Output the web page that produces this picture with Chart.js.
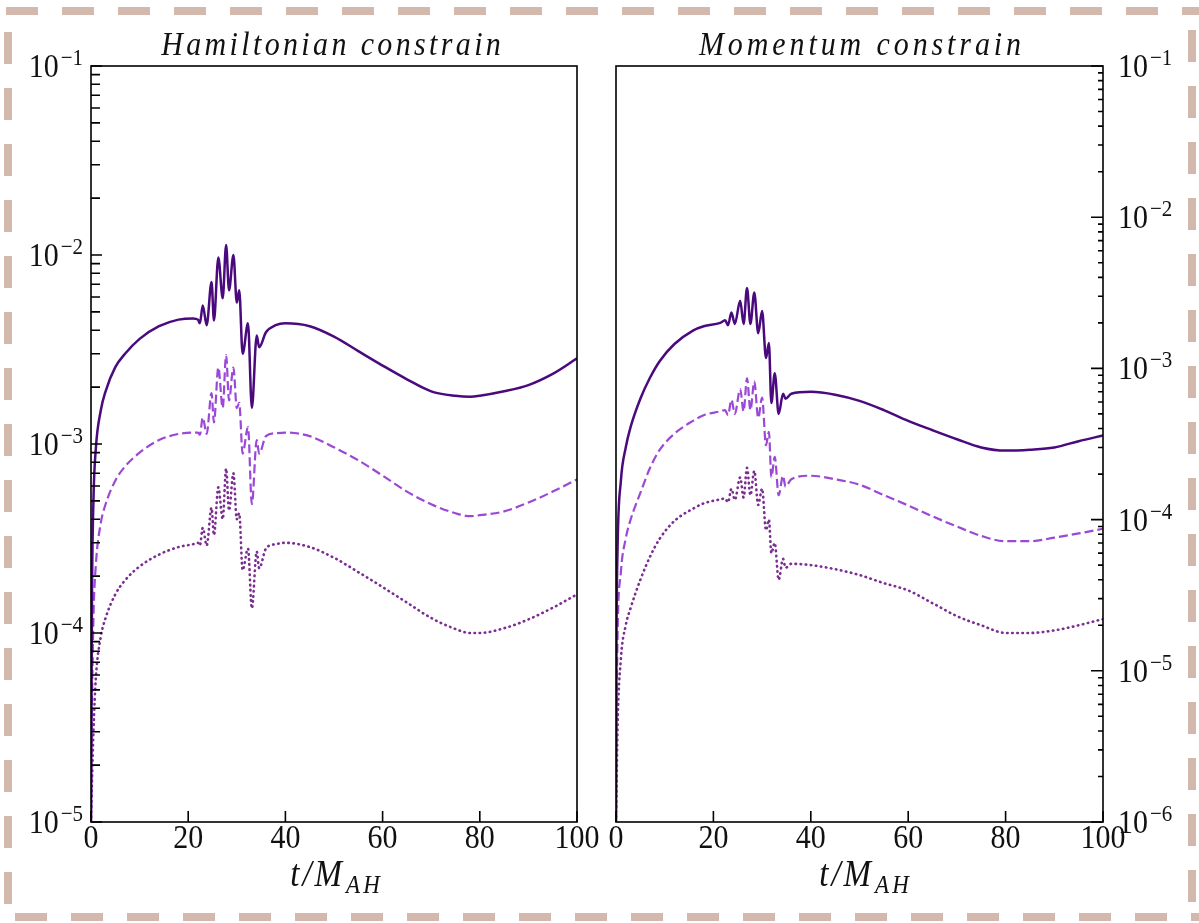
<!DOCTYPE html>
<html><head><meta charset="utf-8">
<script src="https://cdn.jsdelivr.net/npm/chart.js@4.4.0/dist/chart.umd.min.js"></script>
<style>
html,body{margin:0;padding:0;background:#fff;}
#wrap{position:relative;width:1199px;height:923px;overflow:hidden;background:#fff;}
canvas{position:absolute;top:0;}
#c1{left:0;} #c2{left:600px;}
svg{position:absolute;left:0;top:0;}
</style></head><body>
<div id="wrap">
<canvas id="c1" width="600" height="923"></canvas>
<canvas id="c2" width="599" height="923"></canvas>
<svg width="1199" height="923">
 <g stroke="#d3b8ad" stroke-width="8" fill="none" stroke-dasharray="32 24">
  <line x1="6" y1="11" x2="1199" y2="11"/>
  <line x1="8" y1="32" x2="8" y2="923"/>
  <line x1="1192" y1="30" x2="1192" y2="923"/>
  <line x1="15" y1="917" x2="1199" y2="917"/>
 </g>
</svg>
</div>
<script>
// ---- tick labels ----
const xTicks = [0, 20, 40, 60, 80, 100];
const hamYExps = [-1, -2, -3, -4, -5];
const momYExps = [-1, -2, -3, -4, -5, -6];
const panelTitles = ['Hamiltonian constrain', 'Momentum constrain'];

// ---- Hamiltonian constraint panel ----
const hamT = [0, 0.2, 0.5, 1, 2, 3, 5, 7, 10, 14, 18, 21, 22, 22.4, 23, 23.8, 24.8, 25.3, 26.2, 27.1, 27.8, 28.4, 29.3, 30, 30.5, 31.2, 32.3, 33.1, 34.1, 34.6, 36, 38, 40, 45, 50, 55, 60, 65, 70, 75, 78, 80, 85, 90, 95, 100];
const hamSolid = [1.0e-5, 1.5e-4, 5.0e-4, 9.5e-4, 1.5e-3, 1.9e-3, 2.55e-3, 3.0e-3, 3.6e-3, 4.2e-3, 4.55e-3, 4.62e-3, 4.55e-3, 4.35e-3, 5.4e-3, 4.25e-3, 7.2e-3, 4.5e-3, 9.7e-3, 5.9e-3, 1.13e-2, 6.5e-3, 1.0e-2, 5.6e-3, 6.5e-3, 3.0e-3, 4.35e-3, 1.55e-3, 3.75e-3, 3.25e-3, 3.9e-3, 4.25e-3, 4.35e-3, 4.2e-3, 3.7e-3, 3.1e-3, 2.6e-3, 2.2e-3, 1.9e-3, 1.8e-3, 1.78e-3, 1.8e-3, 1.9e-3, 2.05e-3, 2.35e-3, 2.84e-3];
const hamDashed = [1.0e-5, 4.0e-5, 1.2e-4, 2.3e-4, 3.8e-4, 4.8e-4, 6.4e-4, 7.6e-4, 9.0e-4, 1.05e-3, 1.13e-3, 1.15e-3, 1.15e-3, 1.12e-3, 1.38e-3, 1.13e-3, 1.86e-3, 1.3e-3, 2.54e-3, 1.55e-3, 2.95e-3, 1.7e-3, 2.54e-3, 1.55e-3, 1.65e-3, 8.9e-4, 1.23e-3, 4.8e-4, 1.05e-3, 8.9e-4, 1.1e-3, 1.14e-3, 1.15e-3, 1.1e-3, 9.6e-4, 8.2e-4, 6.8e-4, 5.6e-4, 4.8e-4, 4.3e-4, 4.15e-4, 4.2e-4, 4.4e-4, 4.9e-4, 5.6e-4, 6.5e-4];
const hamDotted = [1.0e-5, 1.6e-5, 3.0e-5, 5.8e-5, 9.5e-5, 1.2e-4, 1.6e-4, 1.9e-4, 2.25e-4, 2.6e-4, 2.85e-4, 2.95e-4, 3.0e-4, 2.9e-4, 3.6e-4, 2.9e-4, 4.6e-4, 3.3e-4, 5.9e-4, 4.0e-4, 7.4e-4, 4.45e-4, 7.0e-4, 4.0e-4, 4.3e-4, 2.15e-4, 2.8e-4, 1.35e-4, 2.7e-4, 2.2e-4, 2.8e-4, 2.95e-4, 3.0e-4, 2.85e-4, 2.5e-4, 2.1e-4, 1.75e-4, 1.45e-4, 1.2e-4, 1.05e-4, 1.0e-4, 1.0e-4, 1.06e-4, 1.18e-4, 1.36e-4, 1.6e-4];

// ---- Momentum constraint panel ----
const momT = [0, 0.1, 0.3, 1, 2, 3, 5, 7, 9, 12, 15.8, 18, 21.4, 22.4, 23, 23.7, 24.4, 25.5, 26.2, 26.9, 27.6, 28.4, 29.2, 30, 30.8, 31.4, 31.9, 32.6, 33.4, 34.3, 34.8, 36, 40, 45, 50, 55, 60, 65, 70, 75, 80, 85, 90, 95, 100];
const momSolid = [1.0e-6, 1.5e-5, 6.0e-5, 1.8e-4, 3.0e-4, 4.1e-4, 6.3e-4, 8.7e-4, 1.12e-3, 1.45e-3, 1.78e-3, 1.9e-3, 2.0e-3, 2.08e-3, 1.93e-3, 2.34e-3, 1.97e-3, 2.8e-3, 1.97e-3, 3.4e-3, 1.97e-3, 3.18e-3, 1.71e-3, 2.4e-3, 1.17e-3, 1.47e-3, 5.9e-4, 9.3e-4, 5.0e-4, 6.8e-4, 6.3e-4, 6.8e-4, 7.0e-4, 6.7e-4, 6.1e-4, 5.3e-4, 4.5e-4, 3.9e-4, 3.4e-4, 3.0e-4, 2.86e-4, 2.9e-4, 3.0e-4, 3.3e-4, 3.6e-4];
const momDashed = [1.0e-6, 4.0e-6, 1.6e-5, 4.5e-5, 7.5e-5, 1.0e-4, 1.5e-4, 2.2e-4, 2.9e-4, 3.7e-4, 4.5e-4, 4.9e-4, 5.2e-4, 5.3e-4, 4.9e-4, 6.2e-4, 5.0e-4, 7.3e-4, 5.2e-4, 8.6e-4, 5.3e-4, 8.2e-4, 4.7e-4, 6.4e-4, 3.1e-4, 3.8e-4, 1.9e-4, 2.6e-4, 1.45e-4, 1.95e-4, 1.65e-4, 1.85e-4, 1.95e-4, 1.85e-4, 1.7e-4, 1.45e-4, 1.24e-4, 1.05e-4, 9.0e-5, 7.8e-5, 7.2e-5, 7.2e-5, 7.6e-5, 8.1e-5, 8.7e-5];
const momDotted = [1.0e-6, 1.5e-6, 4.0e-6, 1.2e-5, 2.0e-5, 2.6e-5, 4.0e-5, 5.7e-5, 7.5e-5, 9.8e-5, 1.18e-4, 1.28e-4, 1.36e-4, 1.38e-4, 1.3e-4, 1.6e-4, 1.35e-4, 1.9e-4, 1.4e-4, 2.2e-4, 1.45e-4, 2.1e-4, 1.25e-4, 1.6e-4, 8.5e-5, 1.0e-4, 6.0e-5, 7.0e-5, 4.0e-5, 5.5e-5, 4.8e-5, 5.1e-5, 5.0e-5, 4.7e-5, 4.3e-5, 3.8e-5, 3.4e-5, 2.8e-5, 2.3e-5, 2.0e-5, 1.78e-5, 1.78e-5, 1.85e-5, 2.0e-5, 2.2e-5];

// ---- styles ----
const FONT = '"Liberation Serif", "DejaVu Serif", serif';
const SY = 1.12; // slight vertical stretch of the reference lettering
const styles = [
  {color: '#4a0a7e', width: 2.5, dash: [], cap: 'butt'},
  {color: '#9b48d6', width: 2.2, dash: [9, 4], cap: 'butt'},
  {color: '#7b2d91', width: 2.6, dash: [0.5, 4.6], cap: 'round'}
];

function drawText(ctx, s, x, y, size, italic, align, ls) {
  ctx.save();
  ctx.translate(x, y);
  ctx.scale(1, SY);
  ctx.font = (italic ? 'italic ' : '') + size + 'px ' + FONT;
  ctx.textAlign = align || 'left';
  ctx.textBaseline = 'alphabetic';
  ctx.fillStyle = '#111';
  if (ls) ctx.letterSpacing = ls + 'px';
  ctx.fillText(s, 0, 0);
  ctx.restore();
}
function measure(ctx, s, size, italic) {
  ctx.save();
  ctx.font = (italic ? 'italic ' : '') + size + 'px ' + FONT;
  const w = ctx.measureText(s).width;
  ctx.restore();
  return w;
}

const decoPlugin = {
  id: 'deco',
  afterDatasetsDraw(chart, args, o) {
    const ctx = chart.ctx, a = chart.chartArea;
    const xs = chart.scales.x, ys = chart.scales.y;
    ctx.save();
    ctx.strokeStyle = '#000';
    ctx.lineWidth = 1.6;
    ctx.strokeRect(a.left, a.top, a.right - a.left, a.bottom - a.top);
    // x ticks (inward)
    ctx.beginPath();
    xTicks.forEach(v => {
      const p = xs.getPixelForValue(v);
      ctx.moveTo(p, a.bottom); ctx.lineTo(p, a.bottom - 11);
    });
    ctx.stroke();
    // y ticks (inward, major + minor)
    const axX = o.side === 'left' ? a.left : a.right;
    const dir = o.side === 'left' ? 1 : -1;
    ctx.beginPath();
    o.exps.forEach((e, i) => {
      const py = ys.getPixelForValue(Math.pow(10, e));
      ctx.moveTo(axX, py); ctx.lineTo(axX + dir * o.major, py);
      if (i < o.exps.length - 1) {
        for (let k = 2; k <= 9; k++) {
          const pm = ys.getPixelForValue(k * Math.pow(10, e - 1));
          ctx.moveTo(axX, pm); ctx.lineTo(axX + dir * o.minor, pm);
        }
      }
    });
    ctx.stroke();
    // x tick labels
    xTicks.forEach(v => {
      drawText(ctx, String(v), xs.getPixelForValue(v), a.bottom + 26, 30, false, 'center');
    });
    // y tick labels 10^e
    o.exps.forEach(e => {
      const py = ys.getPixelForValue(Math.pow(10, e));
      const sup = '\u2212' + Math.abs(e);
      const wb = measure(ctx, '10', 30, false);
      const ws = measure(ctx, sup, 21, false);
      let x0;
      if (o.side === 'left') x0 = a.left - 8 - ws - wb - 2;
      else x0 = a.right + 15;
      drawText(ctx, '10', x0, py + 11, 30, false, 'left');
      drawText(ctx, sup, x0 + wb + 2, py - 1, 21, false, 'left');
    });
    // title
    const tw = measure(ctx, o.title, 30, true);
    const ls = (o.titleWidth - tw) / o.title.length;
    drawText(ctx, o.title, o.titleX + ls / 2, 55, 30, true, 'center', ls);
    // x axis title  t/M_AH
    const w1 = measure(ctx, 't/M', 33, true) + 3 * 3;
    const w2 = measure(ctx, 'AH', 23, true) + 2 * 3;
    const sx = o.xTitleX - (w1 + w2) / 2;
    drawText(ctx, 't/M', sx, 886, 33, true, 'left', 3);
    drawText(ctx, 'AH', sx + w1 + 1, 893, 23, true, 'left', 3);
    ctx.restore();
  }
};

function makeChart(id, T, seriesList, yMin, pad, deco) {
  return new Chart(document.getElementById(id), {
    type: 'line',
    data: {
      datasets: seriesList.map((vals, j) => ({
        data: T.map((t, i) => ({x: t, y: vals[i]})),
        borderColor: styles[j].color,
        borderWidth: styles[j].width,
        borderDash: styles[j].dash,
        borderCapStyle: styles[j].cap,
        pointRadius: 0,
        fill: false,
        cubicInterpolationMode: 'monotone'
      }))
    },
    options: {
      responsive: false,
      animation: false,
      devicePixelRatio: 1,
      layout: {padding: pad},
      plugins: {legend: {display: false}, tooltip: {enabled: false}, deco: deco},
      scales: {
        x: {type: 'linear', min: 0, max: 100, display: false},
        y: {type: 'logarithmic', min: yMin, max: 0.1, display: false}
      }
    },
    plugins: [decoPlugin]
  });
}

makeChart('c1', hamT, [hamSolid, hamDashed, hamDotted], 1e-5,
  {left: 91, right: 23, top: 66, bottom: 101},
  {side: 'left', exps: hamYExps, major: 11, minor: 9, title: panelTitles[0], titleX: 331, titleWidth: 343, xTitleX: 336});
makeChart('c2', momT, [momSolid, momDashed, momDotted], 1e-6,
  {left: 16, right: 96, top: 66, bottom: 101},
  {side: 'right', exps: momYExps, major: 12, minor: 5, title: panelTitles[1], titleX: 260, titleWidth: 326, xTitleX: 265});
</script>
</body></html>
